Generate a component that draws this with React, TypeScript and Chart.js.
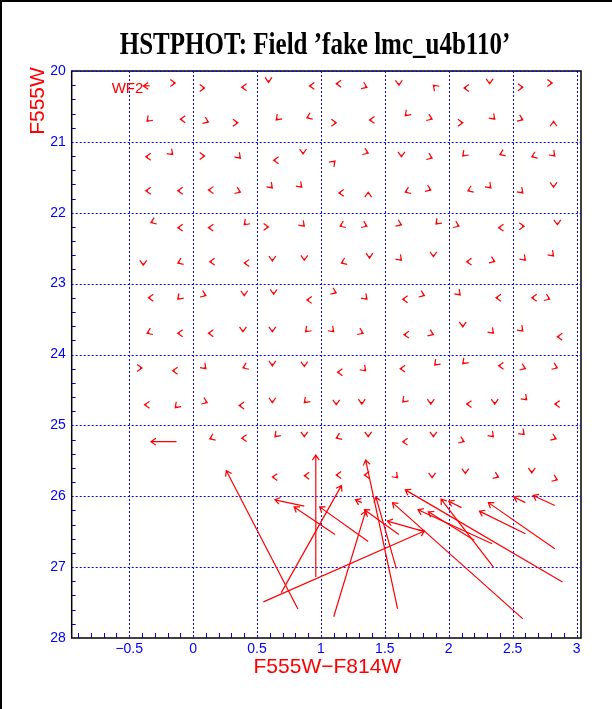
import React, { useEffect, useRef } from 'react';
import { Chart, registerables } from 'chart.js';
Chart.register(...registerables);

const BLUE = '#0000ff';
const RED = '#ff0000';
const TITLE = 'HSTPHOT: Field \u2019fake lmc_u4b110\u2019';
const X_TITLE = 'F555W\u2212F814W';
const Y_TITLE = 'F555W';
const CHIP_LABEL = 'WF2';

const xTicks = [-0.5, 0, 0.5, 1, 1.5, 2, 2.5, 3];
const xTickLabels = ['\u22120.5', '0', '0.5', '1', '1.5', '2', '2.5', '3'];
const yTicks = [20, 21, 22, 23, 24, 25, 26, 27, 28];
const yTickLabels = ['20', '21', '22', '23', '24', '25', '26', '27', '28'];

// small arrows: tip colour, tip magnitude, pointing direction (deg, 0 = right, 90 = up)
const smallX = [
  -0.14, 0.09, 0.38, 0.59, 0.91, 1.12, 1.36, 1.61, 1.88, 2.12, 2.32, 2.58, 2.81,
  -0.36, -0.10, 0.12, 0.35, 0.65, 0.89, 1.12, 1.38, 1.66, 1.87, 2.11, 2.36, 2.58, 2.82,
  -0.37, -0.16, 0.09, 0.37, 0.63, 0.86, 1.11, 1.37, 1.63, 1.87, 2.11, 2.40, 2.65, 2.83,
  -0.37, -0.12, 0.12, 0.37, 0.62, 0.85, 1.14, 1.37, 1.66, 1.86, 2.15, 2.33, 2.58, 2.82,
  -0.33, -0.12, 0.12, 0.40, 0.59, 0.87, 1.15, 1.36, 1.63, 1.90, 2.08, 2.39, 2.59, 2.85,
  -0.39, -0.12, 0.13, 0.40, 0.62, 0.87, 1.16, 1.38, 1.63, 1.88, 2.14, 2.36, 2.60, 2.82,
  -0.35, -0.12, 0.10, 0.40, 0.63, 0.89, 1.12, 1.36, 1.64, 1.81, 2.09, 2.37, 2.65, 2.79,
  -0.36, -0.12, 0.12, 0.39, 0.62, 0.88, 1.10, 1.33, 1.65, 1.88, 2.11, 2.35, 2.58, 2.85,
  -0.40, -0.16, 0.10, 0.39, 0.62, 0.87, 1.13, 1.35, 1.62, 1.89, 2.11, 2.39, 2.60, 2.85,
  -0.38, -0.14, 0.11, 0.36, 0.62, 0.87, 1.12, 1.32, 1.64, 1.86, 2.14, 2.36, 2.61, 2.83,
  0.13, 0.38, 0.64, 0.87, 1.12, 1.37, 1.64, 1.88, 2.12, 2.35, 2.59, 2.84,
  0.62, 0.87, 1.12, 1.34, 1.60, 1.87, 2.13, 2.39, 2.65, 2.85,
];
const smallY = [
  20.17, 20.24, 20.23, 20.16, 20.21, 20.18, 20.23, 20.20, 20.20, 20.24, 20.18, 20.23, 20.17,
  20.71, 20.68, 20.72, 20.73, 20.69, 20.66, 20.73, 20.69, 20.63, 20.68, 20.73, 20.68, 20.69, 20.71,
  21.21, 21.18, 21.20, 21.23, 21.26, 21.17, 21.27, 21.16, 21.21, 21.23, 21.20, 21.18, 21.21, 21.20,
  21.69, 21.69, 21.68, 21.71, 21.65, 21.64, 21.72, 21.71, 21.71, 21.68, 21.69, 21.65, 21.72, 21.64,
  22.14, 22.21, 22.21, 22.17, 22.20, 22.19, 22.19, 22.19, 22.17, 22.16, 22.19, 22.21, 22.19, 22.17,
  22.74, 22.71, 22.69, 22.71, 22.68, 22.67, 22.71, 22.64, 22.67, 22.62, 22.69, 22.69, 22.67, 22.61,
  23.20, 23.22, 23.17, 23.17, 23.15, 23.23, 23.13, 23.22, 23.22, 23.17, 23.16, 23.20, 23.20, 23.22,
  23.70, 23.70, 23.70, 23.68, 23.68, 23.68, 23.68, 23.70, 23.72, 23.72, 23.61, 23.70, 23.67, 23.75,
  24.19, 24.23, 24.20, 24.19, 24.16, 24.17, 24.25, 24.23, 24.20, 24.15, 24.13, 24.16, 24.20, 24.19,
  24.71, 24.75, 24.68, 24.72, 24.68, 24.68, 24.71, 24.70, 24.67, 24.70, 24.70, 24.70, 24.64, 24.70,
  25.19, 25.18, 25.16, 25.16, 25.18, 25.16, 25.23, 25.16, 25.23, 25.16, 25.13, 25.19,
  25.73, 25.71, 25.70, 25.70, 25.74, 25.74, 25.68, 25.73, 25.67, 25.77,
];
const smallDir = [
  0, 0, 180, 270, 180, 180, 337.5, 270, 135, 180, 270, 0, 0,
  225, 180, 337.5, 0, 225, 202.5, 0, 180, 225, 337.5, 0, 315, 337.5, 90,
  180, 315, 0, 315, 180, 270, 45, 337.5, 270, 337.5, 225, 202.5, 202.5, 315,
  180, 180, 180, 337.5, 315, 315, 180, 90, 202.5, 337.5, 202.5, 315, 315, 270,
  202.5, 180, 180, 225, 0, 315, 202.5, 337.5, 337.5, 225, 337.5, 180, 0, 270,
  270, 202.5, 180, 180, 270, 270, 202.5, 270, 315, 270, 180, 337.5, 315, 315,
  180, 225, 337.5, 270, 270, 180, 337.5, 315, 180, 337.5, 315, 180, 180, 337.5,
  202.5, 180, 180, 270, 270, 225, 315, 337.5, 180, 337.5, 270, 315, 315, 180,
  0, 180, 315, 202.5, 270, 270, 180, 315, 180, 225, 225, 180, 337.5, 337.5,
  180, 225, 337.5, 180, 270, 225, 270, 270, 225, 270, 180, 270, 315, 180,
  202.5, 180, 225, 270, 202.5, 270, 180, 270, 337.5, 315, 315, 337.5,
  180, 180, 180, 180, 315, 270, 270, 337.5, 270, 337.5,
];

// long arrows: tail (x0, y0) -> head (x1, y1)
const longX0 = [-0.34, -0.13, 0.82, 0.96, 0.87, 1.11, 0.55, 1.10, 0.69, 1.37, 1.60, 1.59, 1.61, 2.58, 2.89, 2.34, 2.20, 2.35, 2.10, 2.60, 2.83, 2.60, 2.83, 1.81, 1.32];
const longY0 = [20.21, 25.23, 27.59, 27.14, 26.14, 26.54, 27.49, 27.70, 27.36, 26.64, 27.59, 27.02, 26.54, 27.73, 27.21, 26.67, 26.62, 27.00, 26.16, 26.53, 26.74, 26.09, 26.13, 26.50, 26.09];
const longX1 = [-0.39, -0.33, 0.26, 0.96, 0.64, 0.79, 1.81, 1.35, 1.16, 0.99, 1.35, 1.43, 1.34, 1.56, 1.66, 1.76, 1.84, 1.94, 2.00, 2.24, 2.31, 2.51, 2.66, 1.52, 1.27];
const longY1 = [20.21, 25.23, 25.64, 25.42, 26.05, 26.15, 26.49, 26.21, 25.85, 26.15, 25.49, 26.01, 26.19, 26.09, 25.91, 26.19, 26.22, 26.04, 26.07, 26.21, 26.09, 26.01, 25.99, 26.35, 26.05];

const HEAD = 6;
const HEAD_ANGLE = (35 * Math.PI) / 180;
const SHAFT = 2;

function drawArrow(ctx: CanvasRenderingContext2D, tx: number, ty: number, hx: number, hy: number) {
  const a = Math.atan2(hy - ty, hx - tx);
  ctx.beginPath();
  ctx.moveTo(tx, ty);
  ctx.lineTo(hx, hy);
  ctx.moveTo(hx - HEAD * Math.cos(a - HEAD_ANGLE), hy - HEAD * Math.sin(a - HEAD_ANGLE));
  ctx.lineTo(hx, hy);
  ctx.lineTo(hx - HEAD * Math.cos(a + HEAD_ANGLE), hy - HEAD * Math.sin(a + HEAD_ANGLE));
  ctx.stroke();
}

const framePlugin = {
  id: 'frame',
  beforeDatasetsDraw(chart: any) {
    const { ctx, chartArea: ca, scales } = chart;
    const xs = scales.x, ys = scales.y;
    ctx.save();
    ctx.lineWidth = 1;
    // minor ticks
    ctx.strokeStyle = BLUE;
    ctx.beginPath();
    for (let i = -9; i <= 30; i++) {
      if (i % 5 === 0) continue;
      const px = Math.round(xs.getPixelForValue(i / 10)) + 0.5;
      ctx.moveTo(px, ca.bottom);
      ctx.lineTo(px, ca.bottom - 5);
    }
    for (let i = 101; i < 140; i++) {
      if (i % 5 === 0) continue;
      const py = Math.round(ys.getPixelForValue(i / 5)) + 0.5;
      ctx.moveTo(ca.left, py);
      ctx.lineTo(ca.left + 4, py);
    }
    ctx.stroke();
    // frame
    ctx.strokeStyle = '#000';
    ctx.lineWidth = 1.5;
    ctx.strokeRect(ca.left, ca.top, ca.right - ca.left, ca.bottom - ca.top);
    // dashed grid (incl. blue dashes over the top border)
    ctx.strokeStyle = BLUE;
    ctx.lineWidth = 1;
    ctx.setLineDash([2, 2]);
    ctx.beginPath();
    xTicks.forEach((v) => {
      const px = Math.round(xs.getPixelForValue(v)) + 0.5;
      ctx.moveTo(px, ca.top);
      ctx.lineTo(px, ca.bottom);
    });
    yTicks.slice(0, -1).forEach((v) => {
      const py = Math.round(ys.getPixelForValue(v)) + 0.5;
      ctx.moveTo(ca.left, py);
      ctx.lineTo(ca.right, py);
    });
    ctx.stroke();
    ctx.restore();
  },
};

const arrowPlugin = {
  id: 'arrows',
  afterDatasetsDraw(chart: any) {
    const { ctx, scales } = chart;
    const xs = scales.x, ys = scales.y;
    ctx.save();
    ctx.strokeStyle = RED;
    ctx.lineWidth = 1.2;
    for (let i = 0; i < smallX.length; i++) {
      const hx = xs.getPixelForValue(smallX[i]);
      const hy = ys.getPixelForValue(smallY[i]);
      const a = (smallDir[i] * Math.PI) / 180;
      drawArrow(ctx, hx - SHAFT * Math.cos(a), hy + SHAFT * Math.sin(a), hx, hy);
    }
    for (let i = 0; i < longX0.length; i++) {
      drawArrow(
        ctx,
        xs.getPixelForValue(longX0[i]),
        ys.getPixelForValue(longY0[i]),
        xs.getPixelForValue(longX1[i]),
        ys.getPixelForValue(longY1[i])
      );
    }
    ctx.restore();
  },
};

const textPlugin = {
  id: 'texts',
  afterDraw(chart: any) {
    const { ctx, chartArea: ca } = chart;
    ctx.save();
    // outer border
    ctx.fillStyle = '#000';
    ctx.fillRect(0, 0, chart.width, 2);
    ctx.fillRect(0, 0, 2, chart.height);
    // title
    ctx.save();
    ctx.font = 'bold 25px "Liberation Serif"';
    ctx.textAlign = 'center';
    ctx.textBaseline = 'alphabetic';
    ctx.translate(315, 54);
    ctx.scale(1, 1.25);
    ctx.fillText(TITLE, 0, 0);
    ctx.restore();
    // axis titles
    ctx.fillStyle = RED;
    ctx.font = '21px "Liberation Sans"';
    ctx.textAlign = 'center';
    ctx.textBaseline = 'alphabetic';
    ctx.fillText(X_TITLE, (ca.left + ca.right) / 2 + 1, 673);
    ctx.save();
    ctx.translate(44, 101);
    ctx.rotate(-Math.PI / 2);
    ctx.fillText(Y_TITLE, 0, 0);
    ctx.restore();
    // chip label
    ctx.font = '15px "Liberation Sans"';
    ctx.textAlign = 'left';
    ctx.fillText(CHIP_LABEL, ca.left + 40, ca.top + 22);
    ctx.restore();
  },
};

export default function App() {
  const ref = useRef<HTMLCanvasElement>(null);
  useEffect(() => {
    document.body.style.margin = '0';
    const canvas = ref.current!;
    const chart = new Chart(canvas, {
      type: 'scatter',
      data: {
        datasets: [
          {
            data: smallX.map((v, i) => ({ x: v, y: smallY[i] })),
            pointRadius: 0,
            showLine: false,
          },
        ],
      },
      options: {
        responsive: false,
        animation: false,
        devicePixelRatio: 1,
        layout: { padding: { left: 0, top: 71, right: 31, bottom: 0 } },
        plugins: { legend: { display: false }, tooltip: { enabled: false }, title: { display: false } },
        events: [],
        scales: {
          x: {
            type: 'linear',
            min: -0.95,
            max: 3.035,
            grid: { display: false, drawTicks: false },
            border: { display: false },
            afterBuildTicks: (s: any) => {
              s.ticks = xTicks.map((v) => ({ value: v }));
            },
            afterFit: (s: any) => {
              s.height = 71;
            },
            ticks: {
              color: BLUE,
              font: { family: 'Liberation Sans', size: 14 },
              padding: 3,
              maxRotation: 0,
              autoSkip: false,
              callback: (v: any) => xTickLabels[xTicks.indexOf(Number(v))] ?? '',
            },
          },
          y: {
            type: 'linear',
            reverse: true,
            min: 20,
            max: 28,
            grid: { display: false, drawTicks: false },
            border: { display: false },
            afterBuildTicks: (s: any) => {
              s.ticks = yTicks.map((v) => ({ value: v }));
            },
            afterFit: (s: any) => {
              s.width = 71.7;
            },
            ticks: {
              color: BLUE,
              font: { family: 'Liberation Sans', size: 14 },
              padding: 6,
              autoSkip: false,
              callback: (v: any) => yTickLabels[yTicks.indexOf(Number(v))] ?? '',
            },
          },
        },
      },
      plugins: [framePlugin, arrowPlugin, textPlugin],
    });
    return () => chart.destroy();
  }, []);
  return (
    <div style={{ position: 'absolute', left: 0, top: 0, width: 612, height: 709, background: '#fff' }}>
      <canvas ref={ref} width={612} height={709} style={{ display: 'block' }} />
    </div>
  );
}
